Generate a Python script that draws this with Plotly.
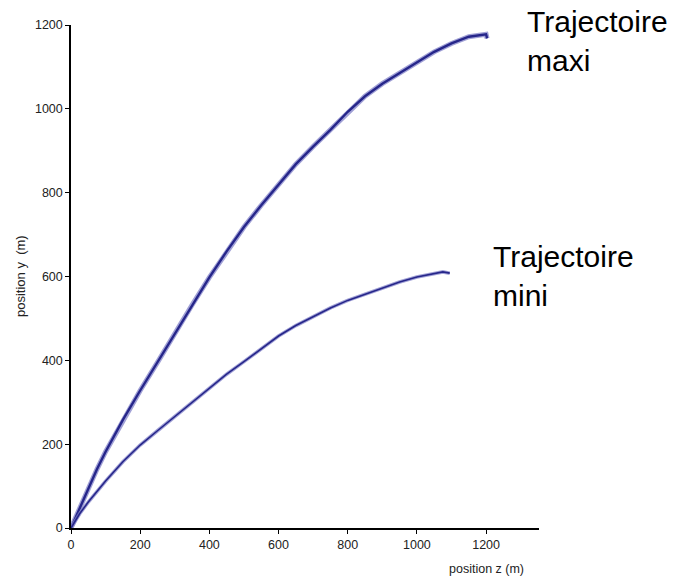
import plotly.graph_objects as go

# Trajectoire maxi (position z, position y) in metres
maxi_z = [0, 25, 50, 75, 100, 150, 200, 250, 300, 350, 400, 450, 500, 550, 600, 650,
          700, 750, 800, 850, 900, 950, 1000, 1050, 1100, 1150, 1200, 1203]
maxi_y = [0, 48, 95, 140, 182, 258, 328, 395, 465, 532, 598, 660, 718, 770, 820, 868,
          910, 950, 993, 1030, 1060, 1085, 1111, 1136, 1156, 1172, 1178, 1168]

# Trajectoire mini
mini_z = [0, 25, 50, 75, 100, 150, 200, 250, 300, 350, 400, 450, 500, 550, 600,
          650, 700, 750, 800, 850, 900, 950, 1000, 1050, 1075, 1095]
mini_y = [0, 34, 62, 88, 112, 158, 198, 232, 266, 301, 335, 367, 397, 428, 458,
          483, 505, 525, 543, 558, 573, 587, 599, 607, 611, 608]

x_ticks = [0, 200, 400, 600, 800, 1000, 1200]
y_ticks = [0, 200, 400, 600, 800, 1000, 1200]

W, H = 680, 578
L, R, T, B = 71, 539, 25, 528  # plot area in screen pixels

def px(xp):
    return (xp - L) / (R - L)

def py(yp):
    return (B - yp) / (B - T)

halo = "rgba(130,130,200,0.75)"
core = "#26268a"

fig = go.Figure()
for z, y, wh, wc in [(maxi_z, maxi_y, 5.0, 2.4), (mini_z, mini_y, 3.6, 1.6)]:
    fig.add_trace(go.Scatter(x=z, y=y, mode="lines",
                             line=dict(color=halo, width=wh), hoverinfo="skip"))
    fig.add_trace(go.Scatter(x=z, y=y, mode="lines",
                             line=dict(color=core, width=wc)))

font_fam = "Arial, Liberation Sans, sans-serif"

fig.update_layout(
    width=W, height=H,
    margin=dict(l=L, r=W - R, t=T, b=H - B, autoexpand=False),
    paper_bgcolor="white", plot_bgcolor="white",
    showlegend=False,
    font=dict(family=font_fam, size=12.5, color="#222222"),
    xaxis=dict(range=[0, 1353], tickvals=x_ticks, showgrid=False, zeroline=False,
               showline=True, linecolor="black", linewidth=1.5,
               ticks="outside", ticklen=4, tickwidth=1.2, tickcolor="black"),
    yaxis=dict(range=[0, 1200], tickvals=y_ticks, showgrid=False, zeroline=False,
               showline=True, linecolor="black", linewidth=1.5,
               ticks="outside", ticklen=4, tickwidth=1.2, tickcolor="black"),
    annotations=[
        dict(text="Trajectoire<br>maxi", xref="paper", yref="paper",
             x=px(525), y=py(41), xanchor="left", yanchor="middle", align="left",
             showarrow=False, font=dict(size=30, color="black", family=font_fam)),
        dict(text="Trajectoire<br>mini", xref="paper", yref="paper",
             x=px(491), y=py(276), xanchor="left", yanchor="middle", align="left",
             showarrow=False, font=dict(size=30, color="black", family=font_fam)),
        dict(text="position z (m)", xref="paper", yref="paper",
             x=px(486), y=py(569), xanchor="center", yanchor="middle",
             showarrow=False, font=dict(size=12.5, color="#222222", family=font_fam)),
        dict(text="position y  (m)", xref="paper", yref="paper",
             x=px(20), y=py(276), xanchor="center", yanchor="middle", textangle=-90,
             showarrow=False, font=dict(size=13, color="#222222", family=font_fam)),
    ],
)

fig.write_html("out.html",
               config={"displayModeBar": False},
               post_script="document.body.style.margin='0';document.body.style.padding='0';")
